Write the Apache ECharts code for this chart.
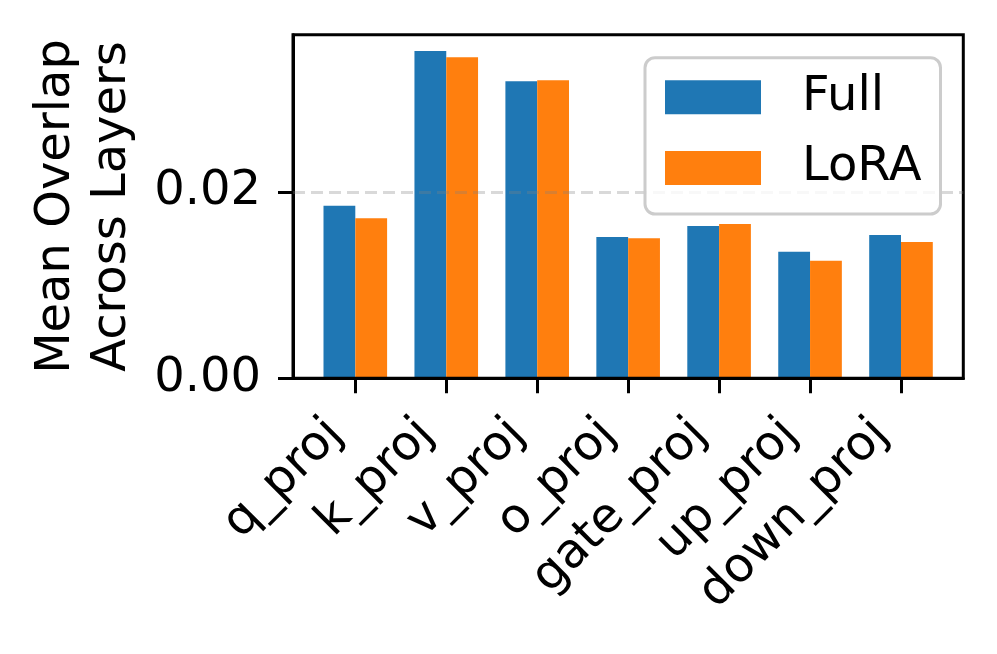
<!DOCTYPE html>
<html>
<head>
<meta charset="utf-8">
<script src="https://cdn.jsdelivr.net/npm/echarts@6/dist/echarts.min.js"></script>
<style>
html,body{margin:0;padding:0;background:#fff;}
#chart{width:997px;height:654px;}
</style>
</head>
<body>
<div id="chart"></div>
<script>
const categories = ['q_proj','k_proj','v_proj','o_proj','gate_proj','up_proj','down_proj'];
const fullValues = [0.01853, 0.03514, 0.03188, 0.01517, 0.01635, 0.01359, 0.01538];
const loraValues = [0.01718, 0.03446, 0.03199, 0.01503, 0.01656, 0.01262, 0.01463];
const yTickValues = [0, 0.02];
const seriesNames = ['Full', 'LoRA'];

const FONT = 'DejaVu Sans';
const catIdx = categories.map((c, i) => i);

const chart = echarts.init(document.getElementById('chart'), null, {renderer: 'canvas'});
chart.setOption({
  animation: false,
  backgroundColor: '#ffffff',
  textStyle: {fontFamily: FONT},
  grid: {
    left: 293, top: 34.7, width: 670.3, height: 343.6,
    show: true, borderColor: '#000', borderWidth: 3, z: 3,
    backgroundColor: 'transparent'
  },
  legend: {
    orient: 'vertical',
    left: 645, top: 57.7,
    data: seriesNames,
    itemWidth: 96, itemHeight: 34, itemGap: 22.7,
    padding: [15.6, 19, 22, 20],
    backgroundColor: 'rgba(255,255,255,0.8)',
    borderColor: '#cccccc', borderWidth: 3, borderRadius: 10,
    icon: 'rect',
    textStyle: {fontFamily: FONT, fontSize: 48, color: '#000', padding: [0,0,0,36]},
    z: 5
  },
  xAxis: {
    type: 'value',
    min: -0.685, max: 6.685,
    z: 3,
    axisLine: {show: true, onZero: false, lineStyle: {color: '#000', width: 3}},
    splitLine: {show: false},
    axisTick: {show: true, customValues: catIdx, length: 15, lineStyle: {color: '#000', width: 3}},
    axisLabel: {
      customValues: catIdx,
      rotate: 45,
      margin: 29,
      padding: [0, 28, 0, 0],
      fontFamily: FONT, fontSize: 48, color: '#000',
      formatter: v => categories[Math.round(v)]
    }
  },
  yAxis: {
    type: 'value',
    min: 0, max: 0.03689, interval: 0.02,
    z: 3,
    axisLine: {show: true, onZero: false, lineStyle: {color: '#000', width: 3}},
    splitLine: {show: false},
    axisTick: {show: true, customValues: yTickValues, length: 15, lineStyle: {color: '#000', width: 3}},
    axisLabel: {
      customValues: yTickValues,
      margin: 32,
      fontFamily: FONT, fontSize: 48, color: '#000',
      formatter: v => v.toFixed(2)
    },
    name: 'Mean Overlap\nAcross Layers',
    nameLocation: 'middle',
    nameRotate: 90,
    nameGap: 152,
    nameTextStyle: {fontFamily: FONT, fontSize: 48, color: '#000', lineHeight: 56}
  },
  series: [
    {
      name: seriesNames[0], type: 'bar',
      data: fullValues.map((v, i) => [i, v]),
      barWidth: 31.8, barGap: '0%',
      itemStyle: {color: '#1f77b4'},
      markLine: {
        silent: true, symbol: 'none', label: {show: false},
        lineStyle: {color: 'rgba(128,128,128,0.3)', type: [12, 6], width: 3},
        data: [{yAxis: yTickValues[1]}],
        z: 4
      }
    },
    {
      name: seriesNames[1], type: 'bar',
      data: loraValues.map((v, i) => [i, v]),
      barWidth: 31.8, barGap: '0%',
      itemStyle: {color: '#ff7f0e'}
    }
  ]
});
</script>
</body>
</html>
